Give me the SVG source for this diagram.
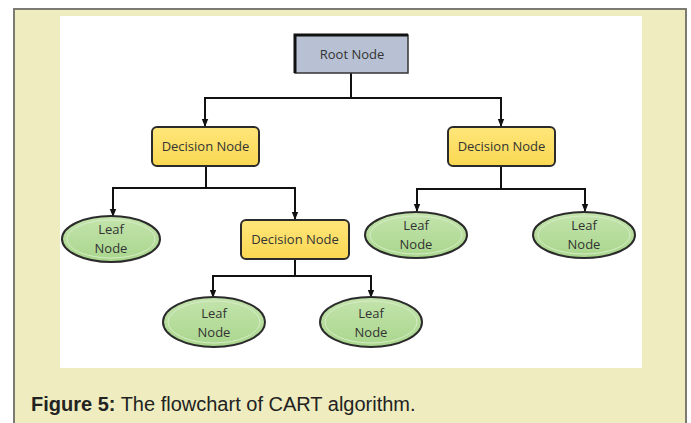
<svg xmlns="http://www.w3.org/2000/svg" width="691" height="423" viewBox="0 0 691 423">
<defs>
<marker id="ah" viewBox="0 0 8 8" refX="7" refY="4" markerWidth="8" markerHeight="8" markerUnits="userSpaceOnUse" orient="auto">
<path d="M0,0.8 L8,4 L0,7.2 Z" fill="#111"/>
</marker>
<linearGradient id="leafg" x1="0" y1="0" x2="0" y2="1">
<stop offset="0" stop-color="#c4e4ad"/>
<stop offset="1" stop-color="#a9d68c"/>
</linearGradient>
<linearGradient id="decg" x1="0" y1="0" x2="0" y2="1">
<stop offset="0" stop-color="#fee67a"/>
<stop offset="1" stop-color="#fbd852"/>
</linearGradient>
</defs>
<style>
.lbl{font-family:"Open Sans","Liberation Sans",sans-serif;font-size:13px;fill:#333;text-anchor:middle}
.dec{fill:url(#decg);stroke:#2b2b2b;stroke-width:2}
.leaf{fill:url(#leafg);stroke:#2b2b2b;stroke-width:2}
.leafin{fill:none;stroke:#d6ecc6;stroke-width:1}
.con{fill:none;stroke:#111;stroke-width:2;marker-end:url(#ah)}
.cap{font-family:"Liberation Sans",Arial,sans-serif;font-size:20px;fill:#222}
</style>
<rect x="14" y="9" width="672" height="420" fill="#efedbf" stroke="#7b7b73" stroke-width="2"/>
<rect x="60" y="16" width="582" height="352" fill="#ffffff"/>
<g id="connectors">
<path class="con" d="M351,73 V98 H205 V126"/>
<path class="con" d="M351,98 H501 V126"/>
<path class="con" d="M206,166 V188 H113 V216"/>
<path class="con" d="M206,188 H295 V219"/>
<path class="con" d="M501,166 V189 H417 V211"/>
<path class="con" d="M501,189 H585 V211"/>
<path class="con" d="M295,259 V276 H213 V297"/>
<path class="con" d="M295,276 H371 V297"/>
</g>
<g id="root">
<rect x="295" y="35" width="113" height="38" fill="#b7c1d3" stroke="#333" stroke-width="1.5"/>
<path d="M295,73 V35 H408" fill="none" stroke="#111" stroke-width="3"/>
<text class="lbl" x="352" y="58.5">Root Node</text>
</g>
<g id="dec1">
<rect class="dec" x="152" y="127" width="107" height="39" rx="5"/>
<text class="lbl" x="205.5" y="151">Decision Node</text>
</g>
<g id="dec2">
<rect class="dec" x="448" y="127" width="107" height="39" rx="5"/>
<text class="lbl" x="501.5" y="151">Decision Node</text>
</g>
<g id="dec3">
<rect class="dec" x="241" y="220" width="108" height="39" rx="5"/>
<text class="lbl" x="295" y="244">Decision Node</text>
</g>
<g id="leaf1">
<ellipse class="leaf" cx="111" cy="239" rx="49" ry="23"/>
<ellipse class="leafin" cx="111" cy="239" rx="44" ry="19"/>
<text class="lbl" x="111" y="234">Leaf</text>
<text class="lbl" x="111" y="253">Node</text>
</g>
<g id="leaf2">
<ellipse class="leaf" cx="416" cy="235" rx="51" ry="23"/>
<ellipse class="leafin" cx="416" cy="235" rx="46" ry="19"/>
<text class="lbl" x="416" y="230">Leaf</text>
<text class="lbl" x="416" y="249">Node</text>
</g>
<g id="leaf3">
<ellipse class="leaf" cx="584" cy="235" rx="51" ry="23"/>
<ellipse class="leafin" cx="584" cy="235" rx="46" ry="19"/>
<text class="lbl" x="584" y="230">Leaf</text>
<text class="lbl" x="584" y="249">Node</text>
</g>
<g id="leaf4">
<ellipse class="leaf" cx="214" cy="322" rx="51" ry="25"/>
<ellipse class="leafin" cx="214" cy="322" rx="46" ry="21"/>
<text class="lbl" x="214" y="318">Leaf</text>
<text class="lbl" x="214" y="337">Node</text>
</g>
<g id="leaf5">
<ellipse class="leaf" cx="371" cy="322" rx="51" ry="25"/>
<ellipse class="leafin" cx="371" cy="322" rx="46" ry="21"/>
<text class="lbl" x="371" y="318">Leaf</text>
<text class="lbl" x="371" y="337">Node</text>
</g>
<text class="cap" x="31" y="411"><tspan font-weight="bold">Figure 5:</tspan> The flowchart of CART algorithm.</text>
</svg>
